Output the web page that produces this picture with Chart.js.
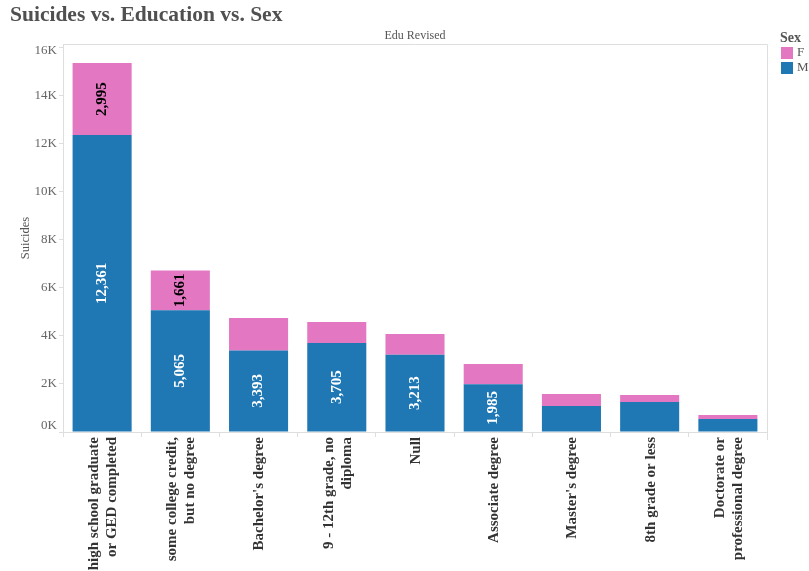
<!DOCTYPE html>
<html>
<head>
<meta charset="utf-8">
<script src="https://cdn.jsdelivr.net/npm/chart.js@4/dist/chart.umd.min.js"></script>
<style>
  html, body { margin: 0; padding: 0; background: #fff; }
  #wrap { width: 809px; height: 571px; position: relative; }
</style>
</head>
<body>
<div id="wrap"><canvas id="c" width="809" height="571"></canvas></div>
<script>
const chartTitle = "Suicides vs. Education vs. Sex";
const columnHeader = "Edu Revised";
const legendTitle = "Sex";
const categories = [
  ["high school graduate", "or GED completed"],
  ["some college credit,", "but no degree"],
  ["Bachelor's degree"],
  ["9 - 12th grade, no", "diploma"],
  ["Null"],
  ["Associate degree"],
  ["Master's degree"],
  ["8th grade or less"],
  ["Doctorate or", "professional degree"]
];
const maleValues   = [12361, 5065, 3393, 3705, 3213, 1985, 1085, 1250, 540];
const femaleValues = [2995, 1661, 1357, 878, 870, 848, 500, 290, 170];
const yTicks = [0, 2000, 4000, 6000, 8000, 10000, 12000, 14000, 16000];
const yMax = 16150;

const BLUE = '#1f77b4';
const PINK = '#e377c2';
const SERIF = '"Liberation Serif", "Times New Roman", serif';

const barLabels = {
  id: 'barLabels',
  afterDatasetsDraw(chart) {
    const ctx = chart.ctx;
    ctx.save();
    ctx.font = 'bold 15px ' + SERIF;
    ctx.textAlign = 'center';
    ctx.textBaseline = 'middle';
    chart.data.datasets.forEach((ds, di) => {
      const meta = chart.getDatasetMeta(di);
      meta.data.forEach((el, i) => {
        const v = ds.data[i];
        const txt = v.toLocaleString('en-US');
        const h = Math.abs(el.base - el.y);
        const w = ctx.measureText(txt).width;
        if (h < w + 4) return;
        ctx.save();
        ctx.translate(el.x, (el.y + el.base) / 2);
        ctx.rotate(-Math.PI / 2);
        ctx.fillStyle = ds.labelColor;
        ctx.fillText(txt, 0, 0);
        ctx.restore();
      });
    });
    ctx.restore();
  }
};

const axisLabels = {
  id: 'axisLabels',
  afterDraw(chart) {
    const { ctx, chartArea: a } = chart;
    const xs = chart.scales.x, ys = chart.scales.y;
    ctx.save();
    // x category labels, rotated, block centred on tick
    ctx.font = 'bold 15px ' + SERIF;
    ctx.fillStyle = '#333';
    ctx.textAlign = 'right';
    ctx.textBaseline = 'middle';
    const lh = 18;
    chart.data.labels.forEach((lines, i) => {
      const x = xs.getPixelForTick(i) + 1;
      const n = lines.length;
      lines.forEach((ln, j) => {
        const off = (j - (n - 1) / 2) * lh;
        ctx.save();
        ctx.translate(x + off, a.bottom + 5);
        ctx.rotate(-Math.PI / 2);
        ctx.fillText(ln, 0, 0);
        ctx.restore();
      });
    });
    // y tick labels, kept inside the pane
    ctx.font = '13px ' + SERIF;
    ctx.fillStyle = '#666';
    ctx.textAlign = 'right';
    ctx.textBaseline = 'middle';
    ys.ticks.forEach(t => {
      let y = ys.getPixelForValue(t.value);
      y = Math.max(a.top + 6.5, Math.min(a.bottom - 6.5, y));
      ctx.fillText((t.value / 1000) + 'K', a.left - 6, y);
    });
    ctx.restore();
  }
};

const decor = {
  id: 'decor',
  afterDraw(chart) {
    const { ctx, chartArea: a } = chart;
    ctx.save();
    ctx.strokeStyle = '#dedede';
    ctx.lineWidth = 1;
    ctx.beginPath();
    ctx.moveTo(a.left, Math.floor(a.top) + 0.5);
    ctx.lineTo(Math.floor(a.right) + 0.5, Math.floor(a.top) + 0.5);
    ctx.lineTo(Math.floor(a.right) + 0.5, a.bottom + 8);
    ctx.stroke();

    ctx.textBaseline = 'middle';
    ctx.textAlign = 'left';
    ctx.fillStyle = '#505050';
    ctx.font = 'bold 21.5px ' + SERIF;
    ctx.fillText(chartTitle, 10, 15);

    ctx.textAlign = 'center';
    ctx.fillStyle = '#555';
    ctx.font = '12px ' + SERIF;
    ctx.fillText(columnHeader, (a.left + a.right) / 2, 36);

    // legend
    ctx.textAlign = 'left';
    ctx.fillStyle = '#555';
    ctx.font = 'bold 14px ' + SERIF;
    ctx.fillText(legendTitle, 780, 38);
    const items = [chart.data.datasets[1], chart.data.datasets[0]];
    items.forEach((ds, k) => {
      const y = 47 + k * 15;
      ctx.fillStyle = ds.backgroundColor;
      ctx.fillRect(781, y, 12, 12);
      ctx.fillStyle = '#555';
      ctx.font = '13px ' + SERIF;
      ctx.fillText(ds.label, 797, y + 6);
    });
    ctx.restore();
  }
};

new Chart(document.getElementById('c'), {
  type: 'bar',
  data: {
    labels: categories,
    datasets: [
      { label: 'M', data: maleValues, backgroundColor: BLUE, labelColor: '#ffffff',
        barPercentage: 0.755, categoryPercentage: 1.0 },
      { label: 'F', data: femaleValues, backgroundColor: PINK, labelColor: '#000000',
        barPercentage: 0.755, categoryPercentage: 1.0 }
    ]
  },
  options: {
    responsive: false,
    animation: false,
    devicePixelRatio: 1,
    layout: { padding: { top: 44, right: 42, left: 0, bottom: 0 } },
    plugins: { legend: { display: false }, tooltip: { enabled: false }, title: { display: false } },
    scales: {
      x: {
        stacked: true,
        afterFit(scale) { scale.height = 139; },
        grid: { display: true, drawOnChartArea: false, offset: true, tickLength: 5, color: '#dedede' },
        border: { display: true, color: '#dedede' },
        ticks: { display: false, autoSkip: false }
      },
      y: {
        stacked: true,
        min: 0, max: yMax,
        afterFit(scale) { scale.width = 63; },
        afterBuildTicks(scale) { scale.ticks = yTicks.map(v => ({ value: v })); },
        grid: { display: true, drawOnChartArea: false, tickLength: 4, color: '#dedede' },
        border: { display: true, color: '#dedede' },
        ticks: { display: false },
        title: { display: true, text: 'Suicides', color: '#555', font: { family: SERIF, size: 12.5 }, padding: { top: 18, bottom: 0 } }
      }
    }
  },
  plugins: [barLabels, axisLabels, decor]
});
</script>
</body>
</html>
